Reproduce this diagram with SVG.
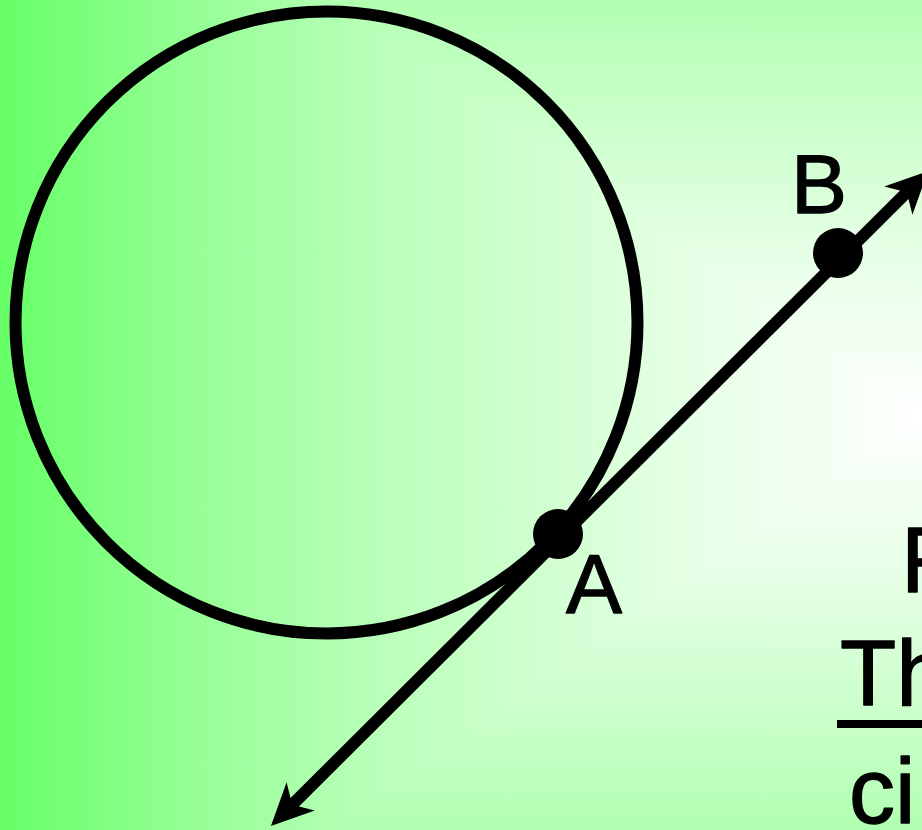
<svg xmlns="http://www.w3.org/2000/svg" width="922" height="830" viewBox="0 0 922 830">
<defs>
<linearGradient id="gL" gradientUnits="userSpaceOnUse" x1="922" y1="0" x2="0" y2="0">
<stop offset="0" stop-color="#ffffff"/><stop offset="0.1" stop-color="#f4fff4"/><stop offset="0.25" stop-color="#e6ffe6"/><stop offset="0.4" stop-color="#d2ffd2"/><stop offset="0.6" stop-color="#b8ffb8"/><stop offset="0.8" stop-color="#94ff94"/><stop offset="0.9" stop-color="#7dff7d"/><stop offset="1" stop-color="#66ff66"/>
</linearGradient>
<linearGradient id="gT" href="#gL" gradientUnits="userSpaceOnUse" x1="0" y1="415" x2="0" y2="-230"/>
<linearGradient id="gB" href="#gL" gradientUnits="userSpaceOnUse" x1="0" y1="415" x2="0" y2="1060"/>
<marker id="arr" markerUnits="userSpaceOnUse" orient="auto-start-reverse" refX="0" refY="0" markerWidth="90" markerHeight="90" viewBox="-30 -45 90 90" overflow="visible">
<path d="M30,0 L-12,-20 L0,0 L-12,20 Z" fill="#000"/>
</marker>
<style>
.lbl{font-family:"Comic Sans MS","Liberation Sans",sans-serif;fill:#000;stroke:#000;stroke-width:1.3;stroke-linejoin:round}
</style>
</defs>
<g id="background">
<rect x="0" y="0" width="922" height="830" fill="url(#gL)"/>
<polygon points="922,415 328.8,0 922,0" fill="url(#gT)"/>
<polygon points="922,415 328.8,830 922,830" fill="url(#gB)"/>
</g>
<g id="circle">
<circle cx="326.5" cy="322.5" r="311" fill="none" stroke="#000" stroke-width="12"/>
</g>
<g id="connectors">
<line x1="292.2" y1="804.8" x2="906.8" y2="192.2" stroke="#000" stroke-width="12" marker-start="url(#arr)" marker-end="url(#arr)"/>
</g>
<g id="pointA">
<circle cx="558" cy="534" r="25" fill="#000"/>
<text class="lbl" x="566" y="613" font-size="84">A</text>
</g>
<g id="pointB">
<circle cx="838" cy="253" r="25" fill="#000"/>
<text class="lbl" x="791" y="213" font-size="84">B</text>
</g>
<g id="definition">
<text class="lbl" x="901" y="592" font-size="92">F</text>
<text class="lbl" x="840" y="705" font-size="92">Th</text>
<line x1="837" y1="724" x2="922" y2="724" stroke="#000" stroke-width="8"/>
<text class="lbl" x="849" y="823" font-size="92">ci</text>
</g>
</svg>
